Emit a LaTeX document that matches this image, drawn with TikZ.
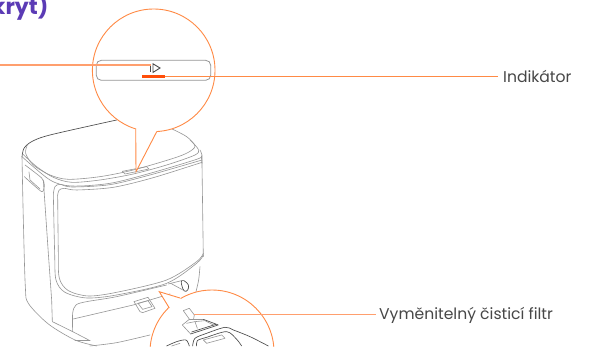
\documentclass[tikz,border=0pt]{standalone}
\usepackage{fontspec}
\setmainfont{Poppins}
\usepackage{xcolor}
\usetikzlibrary{positioning,calc}
\definecolor{accent}{HTML}{FF8A45}
\definecolor{accentsoft}{HTML}{FF9F6E}
\definecolor{marker}{HTML}{FF4E0A}
\definecolor{heading}{HTML}{5B3BB5}
\definecolor{linec}{HTML}{969696}
\definecolor{darkc}{HTML}{4A4A4A}
\tikzset{
  outline/.style={draw=linec,line width=0.6pt,line cap=round,line join=round},
  outlined/.style={outline,draw=darkc,line width=0.65pt},
  callout/.style={circle,draw=accent,line width=0.9pt,fill=white,inner sep=0pt},
  tail/.style={draw=accent,line width=0.9pt,line join=miter},
  leader/.style={draw=accent,line width=0.9pt},
  leadersoft/.style={draw=accentsoft,line width=1.2pt},
  lab/.style={font=\fontsize{15.6}{18}\selectfont,text=black!72,inner sep=0pt},
  headlab/.style={font=\fontsize{22}{24}\selectfont\bfseries,text=heading,inner sep=0pt},
}
\begin{document}
\begin{tikzpicture}[x=1pt,y=-1pt]
  \useasboundingbox (0,0) rectangle (592,346);
  \clip (0,0) rectangle (592,346);
  \fill[white] (0,0) rectangle (592,346);
  % station body, coordinates read off the 3x crop
  \begin{scope}[x=0.3333pt,y=-0.3333pt,shift={(0,360)}]
    \draw[outlined] plot[smooth,tension=0.5] coordinates {(350,0) (150,45) (95,65) (72,85) (66,110)};
    \draw[outline] plot[smooth,tension=0.5] coordinates {(66,110) (70,300) (76,500) (85,550) (145,612) (225,660) (290,678)};
    \draw[outline] plot[smooth,tension=0.5] coordinates {(82,75) (77,100) (100,135) (150,165) (205,178) (300,170) (400,150) (520,115) (565,97) (585,78) (560,50) (512,25)};
    \draw[outline] plot[smooth,tension=0.5] coordinates {(68,102) (110,140) (160,172) (215,187) (300,180) (400,162) (500,135) (585,105) (595,88) (570,60)};
    \draw[outline] plot[smooth,tension=0.5] coordinates {(66,110) (150,180) (215,198) (330,190) (450,160) (590,118) (604,108)};
    \draw[outline] (604,108) -- (606,130) -- (610,410);
    \draw[outline] plot[smooth,tension=0.5] coordinates {(600,90) (606,105) (606,130)};
    % handle
    \draw[outline] plot[smooth,tension=0.4] coordinates {(75,135) (125,174) (133,195) (125,215) (73,170)};
    \draw[outline] (87,156) -- (90,180) -- (120,207);
    % corner seam
    \draw[outline] (130,180) -- (145,400) -- (155,540) -- (157,605) -- (218,635);
    % front panel
    \draw[outline] plot[smooth,tension=0.5] coordinates {(160,222) (165,200) (180,193) (215,201) (330,194) (450,165) (606,120)};
    \draw[outline] plot[smooth,tension=0.5] coordinates {(173,226) (177,211) (192,205) (230,210) (340,202) (460,173) (606,127)};
    \draw[outline] plot[smooth,tension=0.5] coordinates {(160,222) (164,400) (168,480) (195,517) (260,534) (350,525) (500,490) (590,430) (610,405)};
    \draw[outline] plot[smooth,tension=0.5] coordinates {(173,226) (175,400) (178,475) (205,512) (265,528) (350,517) (500,480) (590,425) (610,400)};
    % tray
    \draw[outline] plot[smooth,tension=0.5] coordinates {(600,440) (596,480) (588,515)};
    \draw[outline] plot[smooth,tension=0.5] coordinates {(218,635) (218,580) (228,555) (260,545) (350,530) (500,495)};
    \draw[outline] (220,597) -- (400,555) -- (510,522);
    \draw[outline] (218,635) -- (270,662);
    \draw[outline] (225,662) -- (270,662);
    % latch
    \draw[outline] (402,545) -- (444,532) -- (465,565) -- (428,578) -- (420,575) -- cycle;
    \draw[outline] (414,550) -- (444,542) -- (456,560) -- (428,568) -- cycle;
    % hose slot
    \draw[outlined] plot[smooth cycle,tension=0.8] coordinates {(545,482) (560,488) (566,502) (558,514) (548,505)};
    \draw[outline] (505,492) -- (545,482);
    \draw[outline] (512,490) -- (558,515);
    % lid button
    \draw[outline] (367,154) -- (440,140) -- (447,147) -- (375,162) -- cycle;
    \draw[outline] plot[smooth,tension=0.5] coordinates {(270,678) (350,668) (450,645)};
  \end{scope}

  % top magnifier
  \node[callout,minimum size=122.6pt] (zoomtop) at (153.7,70.3) {};
  \coordinate (zoomtopa) at (135.7,128.3);
  \coordinate (zoomtopb) at (156.7,131.7);
  \coordinate (zoomtoptip) at (136,171.7);
  \fill[white] (zoomtopa) -- (zoomtoptip) -- (zoomtopb) -- ++(0,-6) -- ($(zoomtopa)+(0,-6)$) -- cycle;
  \draw[tail] (zoomtopa) -- (zoomtoptip) -- (zoomtopb);

  \draw[draw=linec,line width=0.8pt,rounded corners=5pt] (96.3,60.3) rectangle (210.7,80.3);
  \draw[draw=darkc,line width=0.9pt] (150.7,64) -- (150.7,72);
  \draw[draw=darkc,line width=0.9pt,line join=miter] (153,63.8) -- (153,72.4) -- (160,68) -- cycle;
  \coordinate (ledleft) at (142.3,76.4);
  \coordinate (ledright) at (165,76.4);
  \draw[draw=marker,line width=2.2pt] (ledleft) -- (ledright);

  % bottom magnifier
  \node[callout,minimum size=124pt] (zoombot) at (212,352) {};
  \coordinate (zoombota) at (180,298);
  \coordinate (zoombotb) at (169.3,308);
  \coordinate (zoombottip) at (159.3,291.7);
  \fill[white] (zoombota) -- (zoombottip) -- (zoombotb) -- ++(5,5) -- ($(zoombota)+(5,5)$) -- cycle;
  \draw[tail] (zoombota) -- (zoombottip) -- (zoombotb);

  % filter inside the magnifier
  \begin{scope}[x=0.3333pt,y=-0.3333pt,shift={(450,870)}]
    \draw[outline] (100,62) -- (118,55) -- (133,75) -- (131,86);
    \draw[outline] (100,62) -- (120,90);
    \draw[outline] (118,88) -- (160,88);
    \draw[outline] (118,88) -- (97,105) -- (122,132);
    \draw[outline] (110,100) -- (135,95) -- (165,92) -- (190,105);
    \draw[outline] (135,95) -- (142,115);
    \draw[outlined] (160,88) -- (205,105) -- (122,132);
    \draw[outlined] (125,126) -- (198,103);
    \draw[outlined] plot[smooth,tension=0.5] coordinates {(128,168) (135,145) (170,130) (225,112) (250,120) (300,140) (355,168)};
    \draw[outlined] plot[smooth,tension=0.5] coordinates {(140,168) (142,152) (170,142) (230,125) (260,148) (275,168)};
    \draw[outline] (160,150) -- (215,135) -- (225,145) -- (170,160) -- cycle;
    \draw[outlined] plot[smooth,tension=0.5] coordinates {(50,168) (80,155) (108,150) (118,168)};
    \draw[outline] (65,168) -- (90,160);
  \end{scope}

  % labels and leaders
  \node[headlab,anchor=base east] (kryt) at (48.5,14) {kryt)};
  \node[lab,anchor=west] (indikator) at (503,76.5) {Indikátor};
  \node[lab,anchor=west] (filtr) at (379,315.5) {Vyměnitelný čisticí filtr};
  \coordinate (coverend) at (0,65);
  \coordinate (coverpoint) at (151,65);
  \coordinate (filterpoint) at (194,314.3);
  \draw[leadersoft] (coverend) -- (coverpoint);
  \draw[leader] (ledright) -- (498,76.4);
  \draw[leadersoft] (filterpoint) -- (376,314.3);
\end{tikzpicture}
\end{document}
